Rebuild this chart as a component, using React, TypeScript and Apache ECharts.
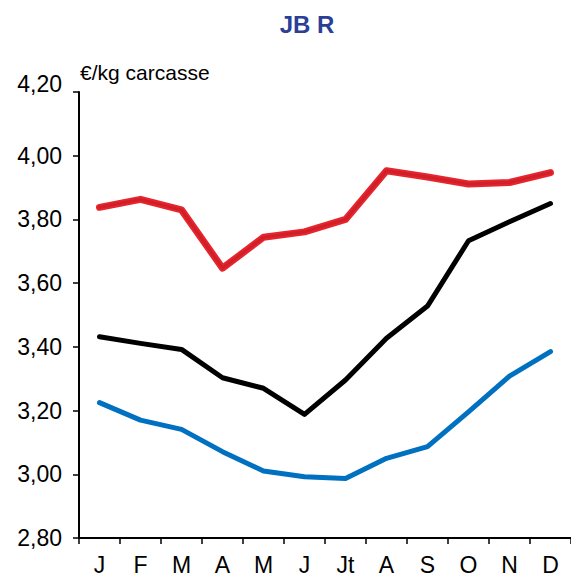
import React, { useEffect, useRef } from "react";
import * as echarts from "echarts";

const months = ["J", "F", "M", "A", "M", "J", "Jt", "A", "S", "O", "N", "D"];
const redSeries = [3.838, 3.863, 3.83, 3.647, 3.744, 3.761, 3.8, 3.953, 3.933, 3.911, 3.916, 3.947];
const blackSeries = [3.432, 3.411, 3.392, 3.303, 3.27, 3.188, 3.296, 3.427, 3.528, 3.733, 3.793, 3.85];
const blueSeries = [3.225, 3.17, 3.141, 3.071, 3.01, 2.992, 2.987, 3.05, 3.087, 3.196, 3.308, 3.385];
const titleText = "JB R";
const unitText = "€/kg carcasse";
const yMin = 2.8;
const yMax = 4.2;
const yStep = 0.2;

export default function App() {
  const ref = useRef<HTMLDivElement>(null);
  useEffect(() => {
    if (!ref.current) return;
    const chart = echarts.init(ref.current, null, { renderer: "svg" });
    const font = "'Liberation Sans', Arial, sans-serif";
    chart.setOption({
      animation: false,
      backgroundColor: "#ffffff",
      title: {
        text: titleText,
        left: 302,
        top: 7,
        textAlign: "center",
        textStyle: { color: "#2B3F96", fontSize: 24, fontWeight: "bold", fontFamily: font },
      },
      graphic: [
        {
          type: "text",
          left: 80,
          top: 62,
          style: { text: unitText, fontSize: 21, fontFamily: font, fill: "#000" },
        },
      ],
      grid: { left: 79, top: 92, width: 501.6, height: 446 },
      xAxis: {
        type: "category",
        data: months,
        boundaryGap: true,
        axisLine: { lineStyle: { color: "#000", width: 2 } },
        axisTick: { show: true, length: 6, lineStyle: { color: "#000", width: 1.5 } },
        axisLabel: { color: "#000", fontSize: 23, fontFamily: font, margin: 15, interval: 0 },
        splitLine: { show: false },
      },
      yAxis: {
        type: "value",
        min: yMin,
        max: yMax,
        interval: yStep,
        axisLine: { show: true, lineStyle: { color: "#000", width: 2 } },
        axisTick: { show: true, length: 6, lineStyle: { color: "#000", width: 1.5 } },
        axisLabel: {
          color: "#000",
          fontSize: 23,
          fontFamily: font,
          margin: 17,
          formatter: (v: number) => {
            const s = v.toFixed(2).replace(".", ",");
            return Math.abs(v - yMax) < 1e-9 ? "{top|" + s + "}" : s;
          },
          rich: {
            top: { fontSize: 23, fontFamily: font, color: "#000", padding: [0, 0, 16, 0] },
          },
        },
        splitLine: { show: false },
      },
      series: [
        {
          type: "line",
          data: blueSeries,
          symbol: "none",
          lineStyle: { color: "#0070C0", width: 5, cap: "round", join: "round" },
        },
        {
          type: "line",
          data: blackSeries,
          symbol: "none",
          lineStyle: { color: "#000000", width: 5, cap: "round", join: "round" },
        },
        {
          type: "line",
          data: redSeries,
          symbol: "none",
          lineStyle: { color: "#E6252D", width: 7, cap: "round", join: "round" },
        },
        {
          type: "line",
          data: redSeries,
          symbol: "none",
          lineStyle: { color: "#D01F29", width: 3, cap: "round", join: "round" },
        },
      ],
    });
    return () => chart.dispose();
  }, []);
  return (
    <div
      ref={ref}
      style={{ position: "fixed", left: 0, top: 0, width: 571, height: 578, background: "#fff" }}
    />
  );
}
